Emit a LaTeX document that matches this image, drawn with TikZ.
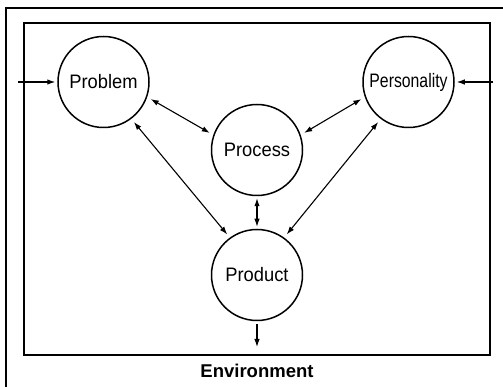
\documentclass[tikz,border=0pt]{standalone}
\usepackage{fontspec}
\setmainfont{Liberation Sans}
\usetikzlibrary{arrows.meta}

\begin{document}
\begin{tikzpicture}[x=1pt,y=1pt,
    stage/.style={circle, draw, line width=1.5pt, minimum size=91pt, inner sep=0pt,
                  font=\fontsize{19.5}{21}\selectfont},
    link/.style={{Latex[length=8pt,width=5.5pt]}-{Latex[length=8pt,width=5.5pt]}, line width=1.1pt,
                 shorten >=4pt, shorten <=4pt},
    flow/.style={-{Latex[length=8pt,width=5.5pt]}, line width=1.1pt}]
    \useasboundingbox (0,0) rectangle (503,387);

    % frames
    \draw[line width=2.4pt] (6,0) -- (6,379) -- (503,379);
    \draw[line width=1.7pt] (24,32) rectangle (490,364);

    \node[stage] (problem) at (103.5,305) {\scalebox{0.94}[1]{Problem}};
    \node[stage] (personality) at (408.5,305) {\scalebox{0.81}[1]{Personality}};
    \node[stage] (process) at (257,237) {\scalebox{0.94}[1]{Process}};
    \node[stage] (product) at (257,112) {\scalebox{0.94}[1]{Product}};
    \node[font=\fontsize{18.5}{20}\selectfont\bfseries] (environment) at (257,16) {Environment};

    \coordinate (inleft) at (18,305);
    \coordinate (inright) at (493,305);
    \coordinate (out) at (257,40);

    % links between the four
    \draw[link] (problem.-19) -- (process.161);
    \draw[link] (process.19) -- (personality.199);
    \draw[link] (problem.-53) -- (product.126);
    \draw[link] (personality.233) -- (product.54);
    \draw[link, shorten >=2pt, shorten <=2pt] (process.south) -- (product.north);

    % in and out of the environment
    \draw[flow, shorten >=2pt] (inleft) -- (problem.west);
    \draw[flow, shorten >=2pt] (inright) -- (personality.east);
    \draw[flow, shorten <=3pt] (product.south) -- (out);
\end{tikzpicture}
\end{document}
